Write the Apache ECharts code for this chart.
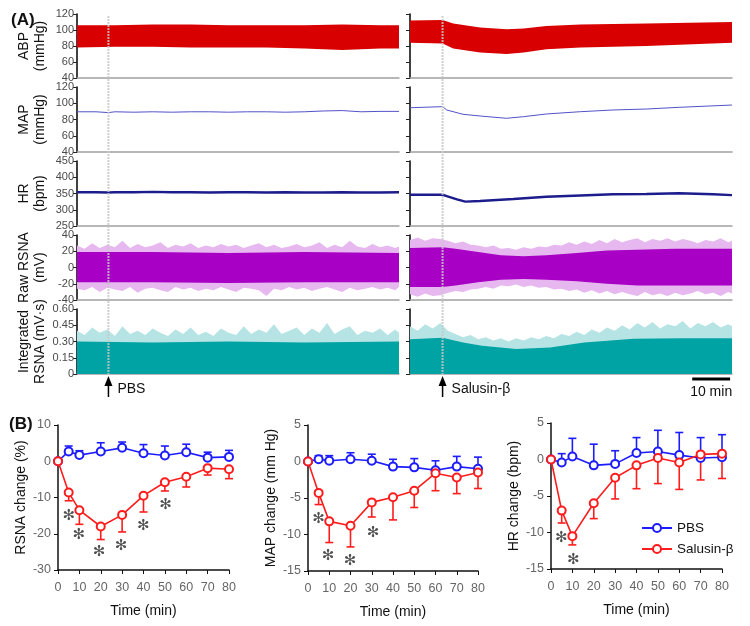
<!DOCTYPE html>
<html><head><meta charset="utf-8">
<script src="https://cdn.jsdelivr.net/npm/echarts@6/dist/echarts.min.js"></script>
<style>html,body{margin:0;padding:0;background:#fff}#c{width:750px;height:626px}</style>
</head><body><div id="c"></div>
<script>
// ================= Panel A data (read from the recordings) =================
const injLeft = 8.3, injRight = 8.6;          // injection time (min)
const scaleBar = [74.5, 84.5];                // 10 min scale bar
const spikeT = [0,2,4,6,8,10,12,14,16,18,20,22,24,26,28,30,32,34,36,38,40,42,44,46,48,50,52,54,56,58,60,62,64,66,68,70,72,74,76,78,80,82,84,85];

// ABP envelopes (mmHg)
const abpLeftT  = [0,10,20,30,40,50,60,70,80,85];
const abpLeftHi = [106,106,107,107,106,106,106,107,106,106];
const abpLeftLo = [78,79,79,78,78,78,77,75,77,77];
const abpRightT  = [0,8.6,11.4,18.5,25.5,30,36,45,62.4,85];
const abpRightHi = [112,112.5,108,103,101,102,105,107,108,110];
const abpRightLo = [84,83,77,72,70,72,76,78,80,84];

// MAP (mmHg)
const mapLeftT = [0,5,8.3,10,15,20,25,30,35,40,45,50,55,60,65,70,75,80,85];
const mapLeft  = [89.5,89.5,88.5,89.5,89,89.5,89,89.5,89.5,89,89.5,89.5,89,89.5,90.5,91,89.5,90,90];
const mapRightT = [0,8.6,9.7,14,18.5,25.5,30,36,45,53.6,62.4,71,85];
const mapRight  = [94.5,95.8,91.7,86.4,84.3,81.5,83.5,86.8,89.6,91.7,92.9,95,97.8];

// HR (bpm)
const hrLeftT = [0,5,8.3,10,15,20,25,30,35,40,45,50,55,60,65,70,75,80,85];
const hrLeft  = [354,354,353,354,354,355,354,354,353,354,354,353,354,353,353,354,353,353,354];
const hrRightT = [0,8.6,9.7,12.4,14.6,18.5,27.3,36,45,53.6,62.4,71,80,85];
const hrRight  = [346,346,342,332,325,327,333,340,344,347.5,348.5,350.5,347.5,345];

// Raw RSNA (mV)
const rawLeftCoreT  = [0,20,40,60,85];
const rawLeftCoreUp = [19,19,18,19,18];
const rawLeftCoreLo = [-18,-18,-19,-18,-18];
const rawLeftUp = [27,23,30,24,28,25,33,24,29,25,27,31,24,28,26,30,24,27,25,29,26,28,24,27,30,25,28,24,26,29,25,27,31,24,28,25,33,26,24,29,25,27,24,26];
const rawLeftLo = [-26,-28,-24,-30,-25,-27,-29,-24,-31,-26,-25,-28,-30,-24,-27,-25,-29,-26,-28,-24,-27,-30,-25,-26,-28,-35,-26,-28,-24,-27,-25,-29,-26,-24,-27,-30,-25,-28,-26,-24,-27,-25,-28,-24];
const rawRightCoreT  = [0,8.6,12,18,24,30,36,44,52,60,70,85];
const rawRightCoreUp = [24,25,23,19,15,14,15,18,21,22,23,23];
const rawRightCoreLo = [-24,-24,-22,-18,-15,-14,-15,-17,-20,-22,-22,-22];
const rawRightUp = [34,37,33,36,35,33,30,32,28,27,25,27,23,24,22,25,23,26,25,28,27,31,28,32,29,34,30,35,31,34,36,31,35,33,36,32,35,33,30,34,32,36,31,33];
const rawRightLo = [-33,-36,-32,-35,-34,-31,-29,-30,-27,-26,-24,-26,-22,-23,-21,-24,-22,-25,-24,-27,-26,-29,-27,-31,-28,-32,-29,-33,-30,-33,-35,-30,-34,-32,-35,-31,-34,-32,-29,-33,-31,-35,-30,-32];

// Integrated RSNA (mV·s)
const intLeftCoreT = [0,20,40,60,85];
const intLeftCore  = [0.30,0.29,0.30,0.29,0.30];
const intLeftSpike = [0.40,0.36,0.43,0.38,0.41,0.35,0.44,0.37,0.40,0.36,0.42,0.38,0.35,0.41,0.37,0.43,0.36,0.39,0.35,0.42,0.38,0.36,0.44,0.37,0.41,0.38,0.46,0.37,0.40,0.43,0.36,0.42,0.38,0.47,0.37,0.41,0.44,0.36,0.40,0.38,0.42,0.36,0.41,0.38];
const intRightCoreT = [0,8.6,14,19,28,37,46,59,72,85];
const intRightCore  = [0.32,0.335,0.29,0.26,0.23,0.245,0.29,0.325,0.33,0.33];
const intRightSpike = [0.44,0.40,0.46,0.42,0.47,0.40,0.37,0.34,0.36,0.32,0.34,0.31,0.33,0.30,0.33,0.31,0.34,0.32,0.35,0.33,0.37,0.35,0.39,0.36,0.41,0.38,0.43,0.40,0.45,0.41,0.47,0.43,0.48,0.42,0.46,0.44,0.49,0.42,0.47,0.44,0.48,0.43,0.46,0.44];

// ================= Panel B data =================
const timeB = [0,5,10,20,30,40,50,60,70,80];
const rsnaPBS   = [0,2.7,1.7,2.7,3.7,2.2,1.6,2.5,1.0,1.2];
const rsnaPBSse = [0,1.5,1.2,2.4,1.6,2.4,2.6,2.2,1.5,1.8];
const rsnaSal   = [0,-8.6,-13.5,-18.0,-14.8,-9.5,-5.8,-4.3,-1.9,-2.2];
const rsnaSalse = [0,2.3,3.9,3.6,4.7,4.5,2.4,2.8,1.9,2.6];
const mapPBS    = [0,0.3,0.1,0.3,0.1,-0.7,-0.8,-1.2,-0.7,-1.0];
const mapPBSse  = [0,0.5,0.7,0.9,0.9,1.0,1.2,1.3,1.4,1.6];
const mapSal    = [0,-4.3,-8.2,-8.8,-5.6,-4.9,-4.0,-1.6,-2.2,-1.5];
const mapSalse  = [0,1.6,2.9,2.9,2.0,3.1,2.3,2.4,2.2,2.2];
const hrPBS     = [0,-0.4,0.4,-0.8,-0.6,0.9,1.1,0.6,0.2,0.3];
const hrPBSse   = [0,1.2,2.5,2.9,1.8,2.1,2.9,3.1,2.8,3.1];
const hrSal     = [0,-7.0,-10.5,-6.0,-2.5,-0.8,0.2,-0.4,0.7,0.8];
const hrSalse   = [0,1.7,1.2,2.1,2.9,3.2,3.5,3.7,3.5,3.4];
const rsnaStars = [[5,-15.1],[9.7,-20.5],[19.2,-25.1],[29.5,-23.4],[39.9,-17.9],[50.3,-12.1]];
const mapStars  = [[5,-7.9],[9.4,-13.0],[19.8,-13.6],[30.6,-9.8]];
const hrStars   = [[4.8,-10.8],[10.4,-13.8]];

// ================= build option =================
const FONT = 'Liberation Sans, Arial, sans-serif';
const BLUE = '#1c1cff', RED = '#ff1c1c';

const rowsA = [
  {name:'ABP\n(mmHg)', min:40, max:120, interval:20, top:14, h:64},
  {name:'MAP\n(mmHg)', min:40, max:120, interval:20, top:87, h:65},
  {name:'HR\n(bpm)', min:250, max:450, interval:50, top:161, h:65},
  {name:'Raw RSNA\n(mV)', min:-40, max:40, interval:20, top:235, h:65},
  {name:'Integrated\nRSNA (mV·s)', min:0, max:0.6, interval:0.15, top:309, h:65}
];
const colsA = [{left:77, w:322}, {left:410, w:322}];

const grid = [], xAxis = [], yAxis = [], series = [];
rowsA.forEach((r, ri) => {
  colsA.forEach((c, ci) => {
    grid.push({left:c.left, top:r.top, width:c.w, height:r.h});
    xAxis.push({gridIndex: grid.length-1, type:'value', min:0, max:85,
      axisLine:{onZero:false, lineStyle:{color:'#a0a0a0', width:1.5}},
      axisTick:{show:false}, axisLabel:{show:false}, splitLine:{show:false}});
    yAxis.push({gridIndex: grid.length-1, type:'value', min:r.min, max:r.max, interval:r.interval,
      axisLine:{show:true, lineStyle:{color:'#111', width:1.6}},
      axisTick:{show:true, length:4, lineStyle:{color:'#222'}},
      axisLabel:{show: ci===0, color:'#4a4a4a', fontSize:11, fontFamily:FONT, margin:3,
        formatter: v => (r.interval < 1 ? (v===0 ? '0' : v.toFixed(2)) : String(v))},
      splitLine:{show:false},
      name: ci===0 ? r.name : '', nameLocation:'middle', nameGap:29, nameRotate:90,
      nameTextStyle:{color:'#111', fontSize:14, fontFamily:FONT, lineHeight:16}});
  });
});

function polySeries(gi, upT, up, loT, lo, color, z) {
  return {type:'custom', xAxisIndex:gi, yAxisIndex:gi, z:z||2, silent:true,
    data:[[upT[0], up[0]]],
    renderItem:(params, api) => {
      const pts = [];
      upT.forEach((t,i) => pts.push(api.coord([t, up[i]])));
      for (let i = loT.length-1; i >= 0; i--) pts.push(api.coord([loT[i], lo[i]]));
      return {type:'polygon', shape:{points:pts}, style:{fill:color}};
    }};
}
function lineSeries(gi, t, v, color, w) {
  return {type:'line', xAxisIndex:gi, yAxisIndex:gi, showSymbol:false, silent:true,
    data: t.map((x,i)=>[x, v[i]]), lineStyle:{color, width:w}};
}
const zerosOf = a => a.map(() => 0);
const ends = [0,85];

const PURPLE = '#a800c4', PURPLE_L = '#e6b8ef', TEAL = '#00a3a3', TEAL_L = '#b6e4e4', ABPRED = '#d80000';
series.push(polySeries(0, abpLeftT, abpLeftHi, abpLeftT, abpLeftLo, ABPRED));
series.push(polySeries(1, abpRightT, abpRightHi, abpRightT, abpRightLo, ABPRED));
series.push(lineSeries(2, mapLeftT, mapLeft, '#5252c8', 1));
series.push(lineSeries(3, mapRightT, mapRight, '#5252c8', 1));
series.push(lineSeries(4, hrLeftT, hrLeft, '#1c1c8c', 2.5));
series.push(lineSeries(5, hrRightT, hrRight, '#1c1c8c', 2.5));
series.push(polySeries(6, spikeT, rawLeftUp, spikeT, rawLeftLo, PURPLE_L, 2));
series.push(polySeries(6, rawLeftCoreT, rawLeftCoreUp, rawLeftCoreT, rawLeftCoreLo, PURPLE, 3));
series.push(polySeries(7, spikeT, rawRightUp, spikeT, rawRightLo, PURPLE_L, 2));
series.push(polySeries(7, rawRightCoreT, rawRightCoreUp, rawRightCoreT, rawRightCoreLo, PURPLE, 3));
series.push(polySeries(8, spikeT, intLeftSpike, ends, zerosOf(ends), TEAL_L, 2));
series.push(polySeries(8, intLeftCoreT, intLeftCore, ends, zerosOf(ends), TEAL, 3));
series.push(polySeries(9, spikeT, intRightSpike, ends, zerosOf(ends), TEAL_L, 2));
series.push(polySeries(9, intRightCoreT, intRightCore, ends, zerosOf(ends), TEAL, 3));

// ---- Panel B ----
const chartsB = [
  {left:58, top:425, w:171, h:145, min:-30, max:10, interval:10, name:'RSNA change (%)',
   pbs:rsnaPBS, pbsSe:rsnaPBSse, sal:rsnaSal, salSe:rsnaSalse, stars:rsnaStars},
  {left:308, top:425, w:170, h:146, min:-15, max:5, interval:5, name:'MAP change (mm Hg)',
   pbs:mapPBS, pbsSe:mapPBSse, sal:mapSal, salSe:mapSalse, stars:mapStars},
  {left:551, top:423, w:171, h:146, min:-15, max:5, interval:5, name:'HR change (bpm)',
   pbs:hrPBS, pbsSe:hrPBSse, sal:hrSal, salSe:hrSalse, stars:hrStars}
];
function errSeries(gi, vals, ses, dir, color) {
  return {type:'custom', xAxisIndex:gi, yAxisIndex:gi, z:3, silent:true,
    data: timeB.map((t,i) => [t, vals[i], vals[i] + dir*ses[i]]).filter(d => d[1] !== d[2]),
    encode:{x:0, y:[1,2]},
    renderItem:(params, api) => {
      const p1 = api.coord([api.value(0), api.value(1)]);
      const p2 = api.coord([api.value(0), api.value(2)]);
      const st = {stroke:color, lineWidth:1.6};
      return {type:'group', children:[
        {type:'line', shape:{x1:p1[0], y1:p1[1], x2:p2[0], y2:p2[1]}, style:st},
        {type:'line', shape:{x1:p2[0]-4, y1:p2[1], x2:p2[0]+4, y2:p2[1]}, style:st}
      ]};
    }};
}
chartsB.forEach((cb, k) => {
  grid.push({left:cb.left, top:cb.top, width:cb.w, height:cb.h});
  const gi = grid.length-1;
  xAxis.push({gridIndex:gi, type:'value', min:0, max:80, interval:10,
    axisLine:{onZero:false, lineStyle:{color:'#111', width:1.5}},
    axisTick:{show:true, length:4, lineStyle:{color:'#111'}},
    axisLabel:{color:'#666', fontSize:12.5, fontFamily:FONT, margin:11},
    splitLine:{show:false},
    name:'Time (min)', nameLocation:'middle', nameGap:34,
    nameTextStyle:{color:'#111', fontSize:14, fontFamily:FONT}});
  yAxis.push({gridIndex:gi, type:'value', min:cb.min, max:cb.max, interval:cb.interval,
    axisLine:{show:true, onZero:false, lineStyle:{color:'#111', width:1.5}},
    axisTick:{show:true, length:4, lineStyle:{color:'#111'}},
    axisLabel:{color:'#666', fontSize:12.5, fontFamily:FONT, margin:7},
    splitLine:{show:false},
    name:cb.name, nameLocation:'middle', nameGap:30, nameRotate:90,
    nameTextStyle:{color:'#111', fontSize:14, fontFamily:FONT}});
  series.push(errSeries(gi, cb.pbs, cb.pbsSe, 1, BLUE));
  series.push(errSeries(gi, cb.sal, cb.salSe, -1, RED));
  series.push({type:'line', name:'PBS', xAxisIndex:gi, yAxisIndex:gi, z:5,
    data: timeB.map((t,i)=>[t, cb.pbs[i]]), symbol:'emptyCircle', symbolSize:8,
    lineStyle:{color:BLUE, width:1.6}, itemStyle:{color:BLUE, borderWidth:1.6}});
  series.push({type:'line', name:'Salusin-β', xAxisIndex:gi, yAxisIndex:gi, z:6,
    data: timeB.map((t,i)=>[t, cb.sal[i]]), symbol:'emptyCircle', symbolSize:8,
    lineStyle:{color:RED, width:1.6}, itemStyle:{color:RED, borderWidth:1.6}});
  series.push({type:'scatter', xAxisIndex:gi, yAxisIndex:gi, z:7, silent:true,
    data: cb.stars, symbolSize:1, itemStyle:{color:'rgba(0,0,0,0)'},
    label:{show:true, position:'inside', formatter:'✻', color:'#222', fontSize:15,
      fontFamily:'DejaVu Sans'}});
});

const option = {
  animation:false, backgroundColor:'#fff',
  grid, xAxis, yAxis, series,
  legend:{data:['PBS','Salusin-β'], orient:'vertical', left:636, top:516, itemGap:7,
    itemWidth:30, itemHeight:10,
    textStyle:{color:'#111', fontSize:13.5, fontFamily:FONT}}
};
const chart = echarts.init(document.getElementById('c'), null, {renderer:'canvas'});
chart.setOption(option);

// ---- annotations placed through the axes ----
const xl = chart.convertToPixel({xAxisIndex:8}, injLeft);
const xr = chart.convertToPixel({xAxisIndex:9}, injRight);
const s0 = chart.convertToPixel({xAxisIndex:9}, scaleBar[0]);
const s1 = chart.convertToPixel({xAxisIndex:9}, scaleBar[1]);
function injMark(x, label) {
  return [
    {type:'line', z:100, shape:{x1:x, y1:16, x2:x, y2:376}, style:{stroke:'rgba(200,200,200,0.85)', lineWidth:2, lineDash:[2,1]}},
    {type:'line', z:100, shape:{x1:x, y1:384, x2:x, y2:397}, style:{stroke:'#000', lineWidth:1.5}},
    {type:'polygon', z:100, shape:{points:[[x-4,386],[x+4,386],[x,376]]}, style:{fill:'#000'}},
    {type:'text', z:100, style:{x:x+9, y:389, text:label, fill:'#111', font:'14px '+FONT, textVerticalAlign:'middle'}}
  ];
}
chart.setOption({graphic:[
  {type:'text', style:{x:11, y:20, text:'(A)', fill:'#111', font:'bold 17px '+FONT, textVerticalAlign:'middle'}},
  {type:'text', style:{x:9, y:424, text:'(B)', fill:'#111', font:'bold 17px '+FONT, textVerticalAlign:'middle'}},
  ...injMark(xl, 'PBS'),
  ...injMark(xr, 'Salusin-β'),
  {type:'line', shape:{x1:s0, y1:379, x2:s1, y2:379}, style:{stroke:'#000', lineWidth:3}},
  {type:'text', style:{x:(s0+s1)/2, y:392, text:'10 min', fill:'#111', font:'14px '+FONT, textAlign:'center', textVerticalAlign:'middle'}}
]});
</script></body></html>
